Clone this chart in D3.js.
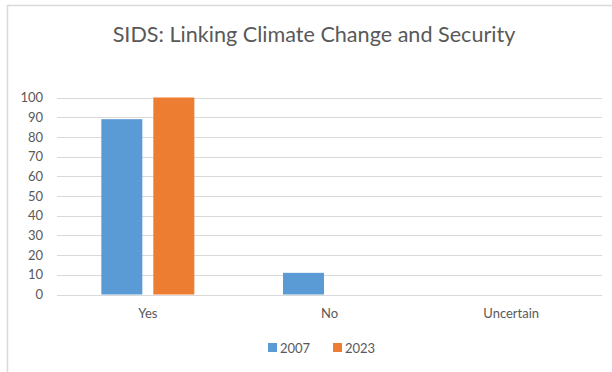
<!DOCTYPE html>
<html>
<head>
<meta charset="utf-8">
<script src="https://cdn.jsdelivr.net/npm/d3@7"></script>
<style>
  body { margin: 0; background: #fff; }
  svg text { font-family: Lato, "Open Sans", sans-serif; fill: #595959; }
</style>
</head>
<body>
<script>
// chart data
var categories = ['Yes', 'No', 'Uncertain'];
var seriesNames = ['2007', '2023'];
var values2007 = [89, 11, 0];
var values2023 = [100, 0, 0];
var yTicks = [0, 10, 20, 30, 40, 50, 60, 70, 80, 90, 100];
var colors = ['#5B9BD5', '#ED7D31'];

var W = 612, H = 372;
var svg = d3.select('body').append('svg').attr('width', W).attr('height', H);

// chart border (only top and left visible in the crop)
svg.append('path')
  .attr('d', 'M7.5,' + H + 'V5.5H' + W)
  .attr('fill', 'none').attr('stroke', '#d9d9d9').attr('stroke-width', 1.5);

var plotLeft = 57, plotRight = 602, plotTop = 97.5, plotBottom = 294.5;

var x = d3.scaleBand().domain(categories).range([plotLeft, plotRight]);
var y = d3.scaleLinear().domain([0, 100]).range([plotBottom, plotTop]);

svg.append('text')
  .attr('x', 314).attr('y', 42)
  .attr('text-anchor', 'middle')
  .attr('font-size', 21.6)
  .text('SIDS: Linking Climate Change and Security');

// gridlines
svg.append('g').selectAll('line')
  .data(yTicks)
  .enter().append('line')
    .attr('x1', plotLeft).attr('x2', plotRight)
    .attr('y1', d => Math.round(y(d)) + 0.5).attr('y2', d => Math.round(y(d)) + 0.5)
    .attr('stroke', '#d9d9d9').attr('stroke-width', 1);

// y axis labels
var yAxis = svg.append('g')
  .attr('transform', 'translate(' + plotLeft + ',0)')
  .call(d3.axisLeft(y).tickValues(yTicks).tickSize(0).tickPadding(14));
yAxis.select('.domain').remove();
yAxis.selectAll('text').attr('font-size', 13).attr('fill', '#595959').style('font-family', 'Lato, sans-serif');

// x axis labels
var xAxis = svg.append('g')
  .attr('transform', 'translate(0,' + plotBottom + ')')
  .call(d3.axisBottom(x).tickSize(0).tickPadding(14));
xAxis.select('.domain').remove();
xAxis.selectAll('text').attr('font-size', 13).attr('fill', '#595959').style('font-family', 'Lato, sans-serif');

var barW = 41, gap = 11;
var series = [values2007, values2023];

for (let s = 0; s < series.length; s++) {
  svg.selectAll('rect.s' + s)
    .data(series[s])
    .enter().append('rect')
      .attr('class', 's' + s)
      .attr('x', (d, i) => x(categories[i]) + x.bandwidth() / 2 - (barW * 2 + gap) / 2 + s * (barW + gap))
      .attr('y', d => y(d))
      .attr('width', barW)
      .attr('height', d => plotBottom - y(d))
      .attr('fill', colors[s]);
}

// legend
var legend = svg.append('g').attr('transform', 'translate(268,342)');
var items = legend.selectAll('g')
  .data(seriesNames)
  .enter().append('g')
    .attr('transform', (d, i) => 'translate(' + i * 65 + ',0)');
items.append('rect').attr('width', 9).attr('height', 9).attr('y', 1).attr('fill', (d, i) => colors[i]);
items.append('text').attr('x', 12).attr('y', 10.5).attr('font-size', 13).text(d => d);
</script>
</body>
</html>
